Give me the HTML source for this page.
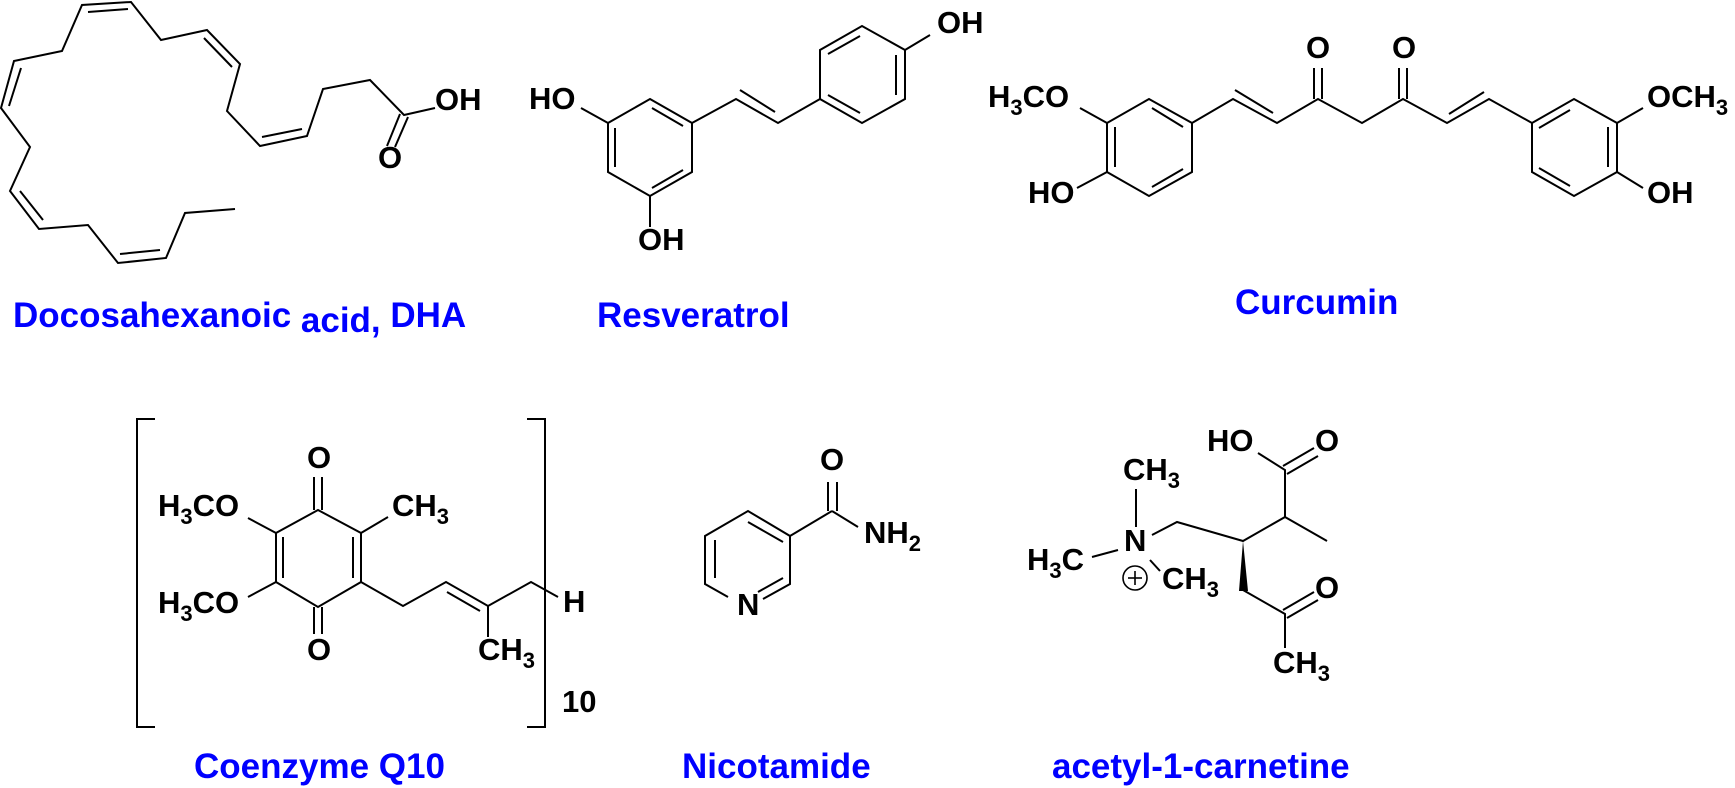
<!DOCTYPE html>
<html><head><meta charset="utf-8"><style>
html,body{margin:0;padding:0;background:#fff;}
svg{display:block;}
text{font-family:"Liberation Sans",Arial,sans-serif;font-weight:bold;}
.a{font-size:31px;fill:#000;}
.l{font-size:35px;fill:#0000ff;}
</style></head><body>
<svg width="1735" height="788" viewBox="0 0 1735 788" xmlns="http://www.w3.org/2000/svg">
<g stroke="#000" stroke-width="2" fill="none" stroke-linejoin="miter" stroke-linecap="butt">
<!-- DHA -->
<polyline points="235,209 185,213 166,258 118,263 88,225 39,229 10,191 30,147 1,108 14,61 62,51 82,5 131,2 161,40 207,30 240,64 227,111 260,146 307,136 323,89 370,80 404,115 435,108"/>
<line x1="88" y1="12" x2="128" y2="9"/>
<line x1="204" y1="38" x2="232" y2="67"/>
<line x1="262" y1="137" x2="302" y2="129"/>
<line x1="21" y1="68" x2="9" y2="106"/>
<line x1="20" y1="191" x2="43" y2="220"/>
<line x1="120" y1="254" x2="160" y2="250"/>
<line x1="400" y1="114" x2="387" y2="146"/>
<line x1="408" y1="117" x2="395" y2="147"/>
<!-- Resveratrol -->
<polygon points="650,99 692,123 692,172 650,196 608,172 608,123"/>
<line x1="608" y1="123" x2="581" y2="108"/>
<line x1="650" y1="196" x2="650" y2="227"/>
<line x1="652" y1="108" x2="683" y2="126"/>
<line x1="615" y1="128" x2="615" y2="167"/>
<line x1="652" y1="188" x2="683" y2="170"/>
<polyline points="692,123 736,99 778,123 820,99"/>
<line x1="740" y1="90" x2="775" y2="112"/>
<polygon points="820,99 820,50 862,26 905,50 905,99 862,123"/>
<line x1="828" y1="54" x2="860" y2="36"/>
<line x1="896" y1="55" x2="896" y2="95"/>
<line x1="828" y1="95" x2="860" y2="113"/>
<line x1="905" y1="50" x2="930" y2="35"/>
<!-- Curcumin -->
<polygon points="1107,123 1149,99 1192,123 1192,172 1149,196 1107,172"/>
<line x1="1107" y1="123" x2="1080" y2="108"/>
<line x1="1107" y1="172" x2="1077" y2="188"/>
<line x1="1115" y1="127" x2="1115" y2="167"/>
<line x1="1152" y1="108" x2="1183" y2="127"/>
<line x1="1152" y1="187" x2="1183" y2="169"/>
<polyline points="1192,123 1233,99 1277,123 1318,99 1362,123 1403,99 1447,123 1489,99 1532,123"/>
<line x1="1235" y1="90" x2="1273" y2="113"/>
<line x1="1449" y1="114" x2="1484" y2="92"/>
<line x1="1314" y1="99" x2="1314" y2="68"/>
<line x1="1322" y1="99" x2="1322" y2="68"/>
<line x1="1399" y1="99" x2="1399" y2="68"/>
<line x1="1407" y1="99" x2="1407" y2="68"/>
<polygon points="1532,123 1574,99 1617,123 1617,172 1574,196 1532,172"/>
<line x1="1539" y1="128" x2="1570" y2="110"/>
<line x1="1608" y1="127" x2="1608" y2="167"/>
<line x1="1539" y1="168" x2="1570" y2="186"/>
<line x1="1617" y1="123" x2="1643" y2="108"/>
<line x1="1617" y1="172" x2="1643" y2="188"/>
<!-- Coenzyme Q10 -->
<polygon points="318,510 361,533 361,582 318,607 276,582 276,533"/>
<line x1="314" y1="510" x2="314" y2="477"/>
<line x1="322" y1="510" x2="322" y2="477"/>
<line x1="314" y1="607" x2="314" y2="634"/>
<line x1="322" y1="607" x2="322" y2="634"/>
<line x1="283" y1="537" x2="283" y2="578"/>
<line x1="353" y1="537" x2="353" y2="578"/>
<line x1="276" y1="533" x2="248" y2="518"/>
<line x1="276" y1="582" x2="248" y2="597"/>
<line x1="361" y1="533" x2="388" y2="517"/>
<polyline points="361,582 403,606 446,582 488,606 531,582 558,597"/>
<line x1="447" y1="592" x2="480" y2="611"/>
<line x1="488" y1="606" x2="488" y2="637"/>
<polyline points="155,419 137,419 137,727 155,727"/>
<polyline points="527,419 545,419 545,727 527,727"/>
<!-- Nicotamide -->
<polyline points="763,599 790,584 790,536 748,511 705,536 705,584 728,597"/>
<line x1="748" y1="522" x2="783" y2="542"/>
<line x1="715" y1="540" x2="715" y2="578"/>
<line x1="758" y1="592" x2="783" y2="578"/>
<line x1="790" y1="536" x2="832" y2="511"/>
<line x1="828" y1="511" x2="828" y2="482"/>
<line x1="837" y1="511" x2="837" y2="482"/>
<line x1="832" y1="511" x2="858" y2="527"/>
<!-- Acetyl carnitine -->
<line x1="1136" y1="489" x2="1136" y2="527"/>
<line x1="1092" y1="557" x2="1118" y2="550"/>
<line x1="1150" y1="560" x2="1160" y2="571"/>
<polyline points="1152,535 1177,522 1243,541 1285,517 1285,470 1258,453"/>
<line x1="1283" y1="466" x2="1314" y2="448"/>
<line x1="1287" y1="474" x2="1318" y2="456"/>
<line x1="1285" y1="517" x2="1327" y2="541"/>
<polyline points="1243,590 1285,614 1285,648"/>
<line x1="1283" y1="610" x2="1314" y2="592"/>
<line x1="1287" y1="618" x2="1318" y2="600"/>
<circle cx="1135" cy="578" r="12" stroke-width="1.6"/>
<line x1="1128" y1="578" x2="1142" y2="578" stroke-width="1.6"/>
<line x1="1135" y1="571" x2="1135" y2="585" stroke-width="1.6"/>
</g>
<polygon points="1243,541 1239,591 1248,591" fill="#000"/>

<!-- atom labels -->
<g class="a">
<text class="a" x="435" y="110">OH</text>
<text class="a" x="378" y="168">O</text>
<text class="a" x="529" y="109">HO</text>
<text class="a" x="638" y="250">OH</text>
<text class="a" x="937" y="33">OH</text>
<text class="a" x="988" y="107">H<tspan font-size="22" dy="8">3</tspan><tspan dy="-8">CO</tspan></text>
<text class="a" x="1028" y="203">HO</text>
<text class="a" x="1306" y="58">O</text>
<text class="a" x="1392" y="58">O</text>
<text class="a" x="1647" y="107">OCH<tspan font-size="22" dy="8">3</tspan></text>
<text class="a" x="1647" y="203">OH</text>
<text class="a" x="307" y="468">O</text>
<text class="a" x="158" y="516">H<tspan font-size="22" dy="8">3</tspan><tspan dy="-8">CO</tspan></text>
<text class="a" x="158" y="613">H<tspan font-size="22" dy="8">3</tspan><tspan dy="-8">CO</tspan></text>
<text class="a" x="392" y="516">CH<tspan font-size="22" dy="8">3</tspan></text>
<text class="a" x="307" y="660">O</text>
<text class="a" x="478" y="660">CH<tspan font-size="22" dy="8">3</tspan></text>
<text class="a" x="563" y="612">H</text>
<text class="a" x="562" y="712">10</text>
<text class="a" x="820" y="470">O</text>
<text class="a" x="864" y="543">NH<tspan font-size="22" dy="8">2</tspan></text>
<text class="a" x="737" y="615">N</text>
<text class="a" x="1123" y="480">CH<tspan font-size="22" dy="8">3</tspan></text>
<text class="a" x="1124" y="551">N</text>
<text class="a" x="1027" y="570">H<tspan font-size="22" dy="8">3</tspan><tspan dy="-8">C</tspan></text>
<text class="a" x="1162" y="589">CH<tspan font-size="22" dy="8">3</tspan></text>
<text class="a" x="1207" y="451">HO</text>
<text class="a" x="1315" y="451">O</text>
<text class="a" x="1315" y="598">O</text>
<text class="a" x="1273" y="673">CH<tspan font-size="22" dy="8">3</tspan></text>
</g>

<!-- compound names -->
<text class="l" x="13" y="327">Docosahexanoic <tspan dy="5">acid,</tspan><tspan dy="-5"> DHA</tspan></text>
<text class="l" x="597" y="327">Resveratrol</text>
<text class="l" x="1235" y="314">Curcumin</text>
<text class="l" x="194" y="778">Coenzyme Q10</text>
<text class="l" x="682" y="778">Nicotamide</text>
<text class="l" x="1052" y="778">acetyl-1-carnetine</text>
</svg>
</body></html>
